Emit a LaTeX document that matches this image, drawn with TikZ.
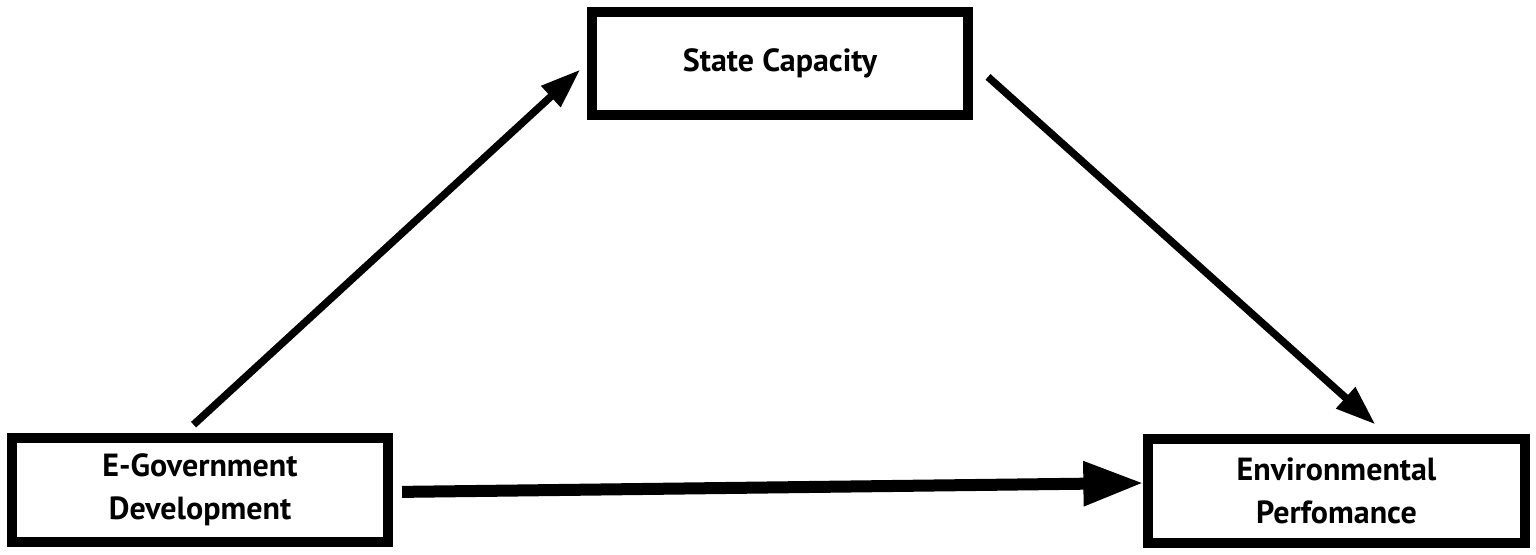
\documentclass[tikz,border=0pt]{standalone}
\usepackage{fontspec}
\setmainfont{PT Sans}
\usetikzlibrary{arrows.meta}
\begin{document}
\begin{tikzpicture}[x=0.01cm, y=0.01cm,
    varbox/.style={draw, line width=0.1cm, minimum width=3.76cm, minimum height=1.03cm,
      align=center, font=\fontsize{9.1}{12.2}\selectfont\bfseries},
    thinarrow/.style={line width=0.075cm, -{Triangle[length=0.4cm, width=0.27cm]}},
    thickarrow/.style={line width=0.12cm, -{Triangle[length=0.6cm, width=0.42cm]}}]
        \useasboundingbox (0,0) rectangle (1536,555);
        \node[varbox] (state) at (780,491.5) {State Capacity};
        \node[varbox] (egov) at (200,65) {E-Government\\Development};
        \node[varbox] (env) at (1336.5,64) {Environmental\\Perfomance};
        \draw[thinarrow, shorten <=0.13cm, shorten >=0.09cm] ([xshift=-0.16cm]egov.north) -- (state.west);
        \draw[thinarrow, shorten <=0.2cm, shorten >=0.15cm] (state.east) -- ([xshift=0.5cm]env.north);
        \draw[thickarrow, shorten <=0.09cm] ([yshift=-0.02cm]egov.east) -- ([yshift=0.08cm]env.west);
      \end{tikzpicture}
\end{document}
